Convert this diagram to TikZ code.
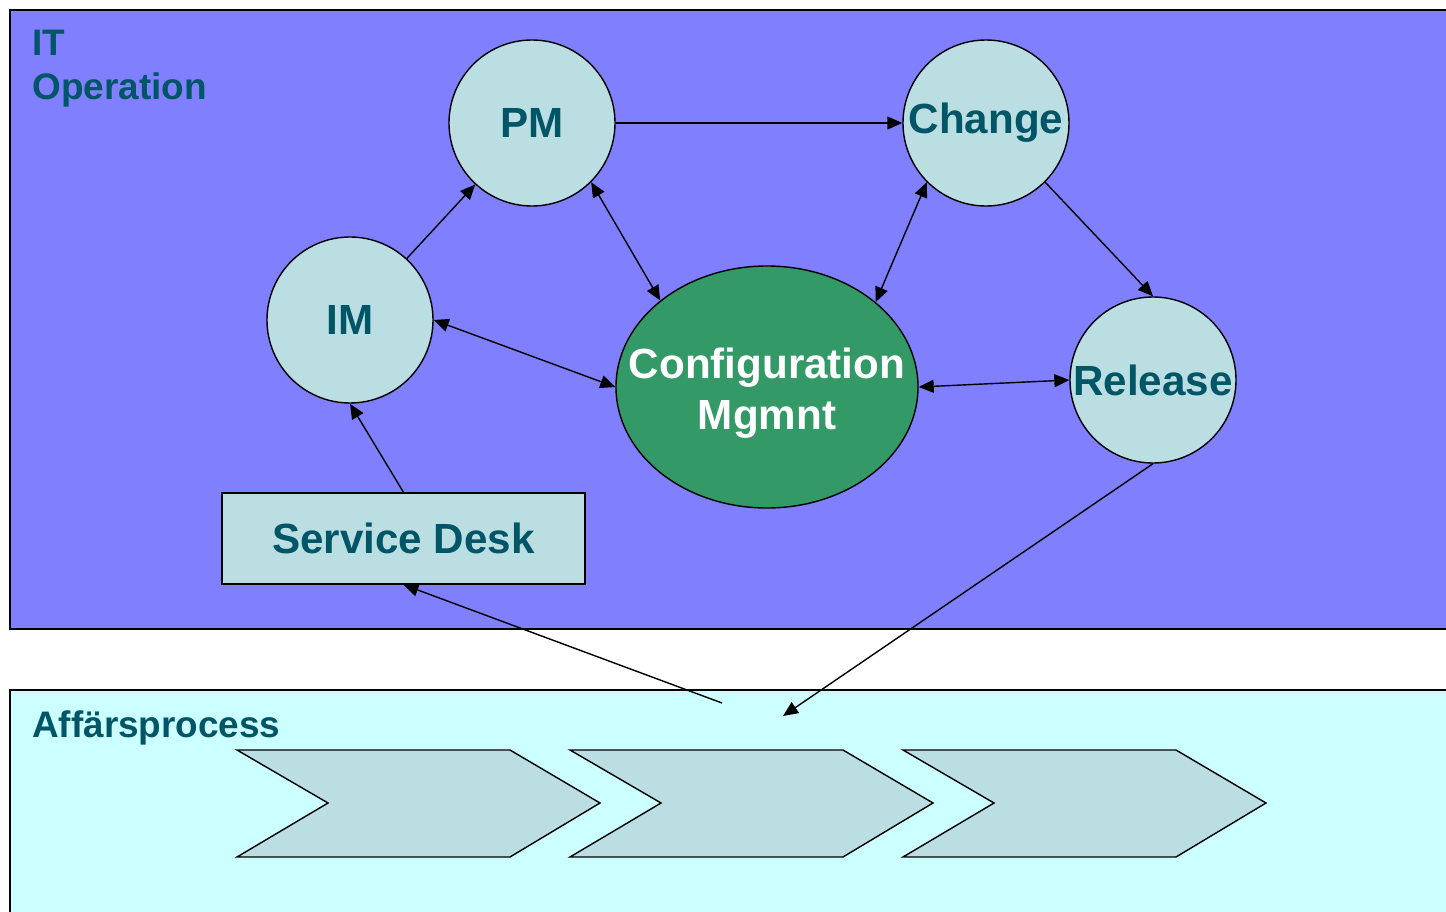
\documentclass[tikz,border=0pt]{standalone}
\usepackage{fontspec}
\setmainfont{Liberation Sans}
\usepackage{tikz}
\usetikzlibrary{arrows.meta}
\usetikzlibrary{positioning,shapes}
\definecolor{itblue}{HTML}{8080FF}
\definecolor{bizcyan}{HTML}{CCFFFF}
\definecolor{procfill}{HTML}{BBDEE3}
\definecolor{cmgreen}{HTML}{339966}
\definecolor{labelteal}{HTML}{005566}
\tikzset{
    proc/.style={
        draw,
        circle,
        fill=procfill,
        line width=0.8pt,
        minimum size=33.2mm,
        inner sep=0pt,
        text=labelteal,
        font=\fontsize{24}{28}\selectfont\bfseries
    },
    cmnode/.style={
        draw,
        ellipse,
        fill=cmgreen,
        line width=0.8pt,
        minimum width=60.4mm,
        minimum height=48.4mm,
        inner xsep=-6.5mm,
        inner ysep=0pt,
        text height=18.6mm,
        align=center,
        text=white,
        font=\fontsize{24}{28.5}\selectfont\bfseries
    },
    deskbox/.style={
        draw,
        rectangle,
        fill=procfill,
        line width=0.8pt,
        minimum width=72.6mm,
        minimum height=18.2mm,
        text=labelteal,
        font=\fontsize{24}{28}\selectfont\bfseries
    },
    areatitle/.style={
        inner sep=0pt,
        align=left,
        text=labelteal,
        font=\fontsize{21}{25}\selectfont\bfseries
    },
    chevron/.style={draw, fill=procfill, line width=0.8pt, line join=miter},
    link/.style={
        draw,
        -{Triangle[length=3mm, width=2.6mm]},
        line width=0.8pt
    },
    twoway/.style={
        draw,
        {Triangle[length=3mm, width=2.6mm]}-{Triangle[length=3mm, width=2.6mm]},
        line width=0.8pt
    }
}

\begin{document}
\begin{tikzpicture}[x=0.2mm, y=-0.2mm]
    \useasboundingbox (0,0) rectangle (1446,912);
    \draw[fill=itblue, line width=1pt] (10,10) rectangle (1452,629);
    \draw[fill=bizcyan, line width=1pt] (10,690) rectangle (1452,925);
    \node[areatitle, anchor=north west] (itop) at (32,30) {IT\\Operation};
    \node[areatitle, anchor=base west] (biz) at (32,737) {Affärsprocess};

    \node[proc] (PM) at (532,123) {PM};
    \node[proc] (Change) at (986,123) {Change};
    \node[proc] (IM) at (350,320) {IM};
    \node[proc] (Release) at (1153,380) {Release};
    \node[cmnode] (Config) at (767,387) {Configuration\\Mgmnt};
    \node[deskbox] (Desk) at (403.5,538.5) {Service Desk};

    \foreach \dx in {0,333,666}
        \draw[chevron] (237+\dx,750) -- ++(273,0) -- ++(90,53) -- ++(-90,54)
            -- ++(-273,0) -- ++(91,-54) -- cycle;

    \coordinate (bizout) at (722,703);
    \coordinate (bizin) at (783,716);

    \draw[link] (IM) -- (PM);
    \draw[link] (PM) -- (Change);
    \draw[twoway] (PM.-45) -- (Config.141);
    \draw[twoway] (Change.-135) -- (Config.38);
    \draw[twoway] (IM.east) -- (Config.west);
    \draw[twoway] (Config.east) -- (Release.west);
    \draw[link] (Change.-45) -- (Release.north);
    \draw[link] (Desk.north) -- (IM.south);
    \draw[link] (bizout) -- (Desk.south); % request into the desk
    \draw[link] (Release.south) -- (bizin);
\end{tikzpicture}
\end{document}
